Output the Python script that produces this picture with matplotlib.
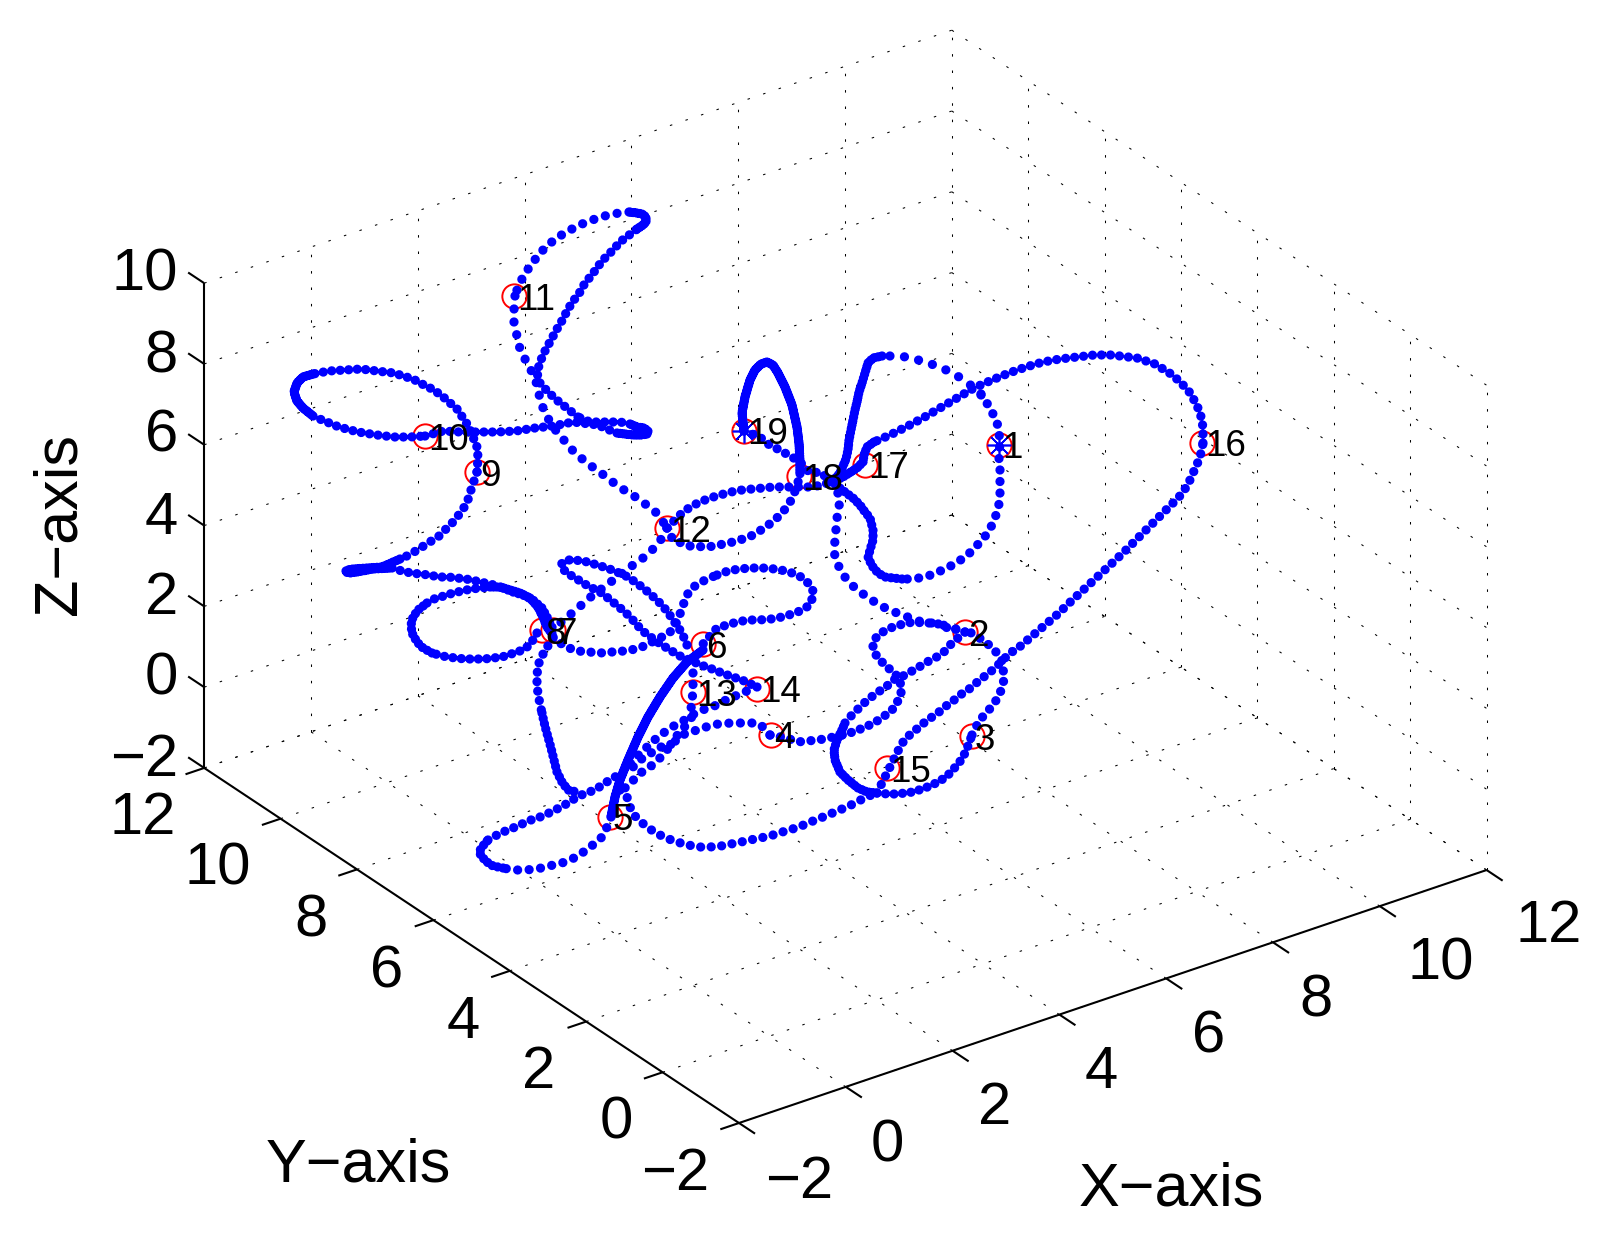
import numpy as np
import matplotlib
matplotlib.use('Agg')
import matplotlib.pyplot as plt

plt.rcParams['font.family'] = ['Liberation Sans', 'DejaVu Sans']
plt.rcParams['lines.scale_dashes'] = False

# axis frame (pixels of the 1603x1236 image)
corner_near = np.array([739., 1123.])
x_step = np.array([53.4, -18.07])
y_step = np.array([-38.2, -25.36])
z_step = np.array([0., -40.4])
x_ticks = [-2, 0, 2, 4, 6, 8, 10, 12]
y_ticks = [-2, 0, 2, 4, 6, 8, 10, 12]
z_ticks = [-2, 0, 2, 4, 6, 8, 10]

x_label_pos = [(799, 1182), (887, 1146), (995, 1109), (1101, 1072), (1209, 1037), (1316, 1001), (1441, 964), (1549, 927)]
y_label_pos = [(675, 1174), (616, 1123), (539, 1072), (463, 1022), (387, 972), (311, 921), (218, 869), (143, 818)]
z_label_pos = [(178, 760), (178, 679), (178, 599), (178, 518), (178, 436), (178, 357), (178, 275)]

# the 19 numbered points
point_u = [999, 965, 972, 771, 610, 703, 553, 542, 477, 425, 514, 667, 693, 757, 887, 1202, 865, 799, 744]
point_v = [445, 632, 736, 735, 817, 644, 630, 630, 472, 436, 296, 528, 692, 689, 768, 443, 465, 476, 431]
point_names = [str(i) for i in range(1, 20)]
star_points = [0, 18]

# trajectory, projected on the image plane
seg_9_10a = [(477,472),(478,457),(477,447),(473,437),(469,427),(463,418),(457,409),(449,402),(441,395),(432,389),(422,384),(413,379),(403,376),(394,373),(385,372),(377,371),(361,369),(345,370),(329,371),(313,374)]
seg_9_10b = [(313,374),(303,377),(297,383),(294,392),(297,401),(303,408),(313,416)]
seg_9_10c = [(313,416),(322,420),(339,427),(358,432),(377,435),(394,437),(410,437),(425,436)]
seg_10_tip = [(425,436),(443,431),(460,432),(478,432),(497,432),(516,431),(535,428),(553,426),(573,422),(598,425),(607,429),(617,433)]
seg_tip = [(617,433),(633,435),(641,435),(647,434),(648,431),(644,428),(637,427),(630,424)]
seg_tip_back = [(630,424),(620,422),(603,422),(590,422),(578,417)]
seg_tip_up = [(578,417),(568,409),(558,401),(548,392),(540,383),(537,373),(540,362),(545,351),(551,340),(557,329),(563,319),(568,309),(574,300),(580,292),(585,283),(591,276),(597,268),(602,261),(608,255),(614,249),(619,243),(625,238),(632,233),(637,229)]
seg_top = [(637,229),(643,225),(646,222),(646,217),(642,214),(637,213),(629,212)]
seg_top_11 = [(629,212),(619,213),(608,215),(595,219),(582,224),(568,231),(555,239),(543,250),(533,262),(524,275),(518,287),(515,296)]
seg_11_12 = [(515,296),(514,310),(514,323),(517,336),(520,349),(526,361),(532,372),(538,387),(540,400),(545,413),(553,427),(563,439),(574,452),(587,463),(601,473),(614,483),(627,492),(639,499),(649,507),(658,514),(667,528)]
seg_12_low = [(667,528),(673,540),(690,546),(708,547),(729,543),(740,540),(751,536),(761,530),(771,523),(779,516),(787,507),(793,497),(800,476)]
seg_12_up = [(667,528),(683,512),(692,506),(700,502),(710,498),(720,495),(731,492),(742,490),(752,489),(763,488),(773,487),(783,487),(800,487),(813,487),(832,482)]
seg_12_7 = [(667,528),(659,543),(652,550),(643,558),(633,565),(612,581),(588,599),(577,609),(560,623),(553,632)]
seg_7_6a = [(553,637),(560,643),(569,648),(578,651),(589,652),(600,653),(612,652),(624,651),(636,649),(647,645),(657,639),(667,635),(673,629),(678,620),(682,608),(687,595),(692,588),(698,584),(707,579),(717,575)]
seg_7_6b = [(717,575),(728,571),(739,569),(751,568),(763,568),(775,569),(786,571),(795,574),(803,578),(810,585),(814,593),(810,605),(800,611),(792,614),(782,617),(771,619),(759,620),(748,620),(737,622),(727,625),(717,628),(703,644)]
seg_hook = [(687,645),(682,633),(667,611),(658,601),(648,592),(638,584),(628,577),(617,572),(607,568),(597,565),(588,562),(575,560),(568,560),(562,563),(561,567),(567,573),(577,579),(588,586),(600,592),(608,598),(619,607),(626,613),(632,619),(638,626),(644,632),(652,638),(659,643),(670,650),(680,656),(701,665),(712,669),(722,673),(730,676),(742,680),(757,687)]
seg_9_far = [(477,472),(470,493),(467,503),(461,512),(454,521),(446,529),(438,537),(428,543),(419,549),(409,555),(400,559)]
seg_far_tip = [(400,559),(391,563),(382,567),(367,568),(353,569),(347,570),(345,572),(350,573),(357,572),(373,569),(392,568)]
seg_far_back = [(392,568),(402,571),(411,573),(420,574),(429,575),(439,577),(448,577),(457,578),(466,579),(476,581),(485,583),(494,585),(503,588)]
seg_far_knot = [(503,588),(513,592),(523,595),(533,600),(542,608),(547,617),(552,627),(553,632)]
seg_loop_a = [(537,633),(533,640),(527,647),(518,652),(511,654),(502,657),(493,658),(484,659),(474,659),(465,659),(456,658),(447,657),(439,655),(432,653)]
seg_loop_b = [(432,653),(423,648),(417,642),(412,633),(411,625),(413,617),(418,610),(427,603)]
seg_loop_c = [(427,603),(436,598),(444,596),(453,593),(462,591),(471,589),(481,588),(490,587)]
seg_loop_d = [(490,587),(500,587),(510,590),(520,593),(530,598),(538,607),(543,617),(547,627),(553,635)]
seg_west_a = [(553,638),(544,652),(539,663),(537,674),(537,684),(538,694),(540,704),(542,713)]
seg_west_b = [(542,713),(544,722),(546,730),(548,737),(551,748),(554,760),(557,772),(562,782),(568,790),(577,792)]
seg_thick = [(703,650),(687,662),(673,678),(660,697),(648,717),(638,737),(628,760),(620,780),(615,797),(611,817)]
seg_lower = [(611,817),(607,827),(602,837),(594,844),(585,851),(574,858),(562,863),(549,866),(537,869),(525,870),(513,870),(503,868)]
seg_lower_tip = [(503,868),(493,866),(487,862),(482,857),(479,852),(482,847),(488,840)]
seg_lower_back = [(488,840),(495,836),(503,832),(513,828),(522,824),(531,820),(540,817),(549,813),(559,808),(568,803),(577,797),(586,793),(595,790),(605,783),(615,777),(623,772)]
seg_14_arc = [(757,687),(742,693),(726,700),(717,705),(705,709),(694,714),(683,721),(672,727),(662,734),(652,742),(643,751),(635,758),(627,768)]
seg_13 = [(693,673),(693,685),(693,692),(691,707),(694,714),(680,733),(672,740),(670,747),(660,747),(651,753),(640,760),(630,770)]
seg_4_arc = [(770,735),(760,724),(752,723),(742,723),(731,723),(718,724),(706,727),(694,731),(682,735),(671,745),(661,757),(651,766),(639,774),(627,787),(620,790)]
seg_5_long = [(620,790),(627,797),(632,813),(640,821),(647,827),(656,833),(666,838),(677,842),(688,845),(699,847),(710,847),(721,846),(731,844),(741,842),(750,840),(760,838),(770,836),(779,833),(789,830),(799,827),(808,823),(818,819),(828,815),(837,811),(847,807),(857,802),(866,797),(877,793)]
seg_to_16a = [(877,793),(885,777),(890,767),(895,757),(900,747),(905,739),(912,733),(918,728),(925,722),(932,717),(939,712),(946,706),(953,701),(960,695),(968,690),(975,684),(981,679),(989,673),(996,667),(1002,661),(1010,653),(1017,649),(1024,643),(1031,637),(1038,631),(1045,625),(1052,619),(1059,613),(1066,606),(1094,580),(1123,553),(1151,525),(1179,497),(1185,489),(1190,480),(1194,471),(1198,462),(1201,453),(1203,443)]
seg_16_17 = [(1203,443),(1203,429),(1202,420),(1199,410),(1195,402),(1191,394),(1185,387),(1178,380),(1171,374),(1163,369),(1155,364),(1146,361),(1137,358),(1128,357),(1120,356),(1111,355),(1094,355),(1077,357),(1060,359),(1043,362),(1026,367),(1009,373),(992,380),(974,388),(957,398),(940,408),(923,418),(906,427),(890,435),(874,442)]
seg_17_knot = [(874,442),(867,447),(864,455),(863,462),(857,468),(843,477),(832,482)]
seg_1_s = [(981,394),(990,408),(997,422),(1000,440),(999,458),(1000,470),(1000,482),(1000,493),(999,504),(996,515),(992,525),(987,534),(980,542),(973,550),(965,557),(956,563),(947,568),(938,572),(928,576),(919,578),(910,579),(902,579)]
seg_s_knot = [(902,579),(893,578),(885,577),(878,573),(873,567),(868,558),(870,550),(873,540),(873,530),(870,518),(865,512),(860,505),(853,498),(845,492),(832,482)]
seg_top_right = [(981,395),(974,388),(968,383),(953,373),(937,366),(922,361),(907,357),(893,356),(882,356)]
seg_top_down = [(882,356),(873,358),(868,363),(865,373),(862,383),(859,392),(857,402),(855,410),(853,420),(851,430),(849,440),(848,450),(846,459),(840,473),(832,482)]
seg_down_2 = [(832,482),(840,497),(839,507),(837,518),(836,529),(835,540),(834,552),(837,563),(844,576),(854,587),(867,597),(881,606),(897,613),(913,619),(925,623),(937,623),(952,628),(965,632)]
seg_19_loop = [(744,431),(742,413),(745,397),(750,380),(755,370),(761,364),(767,362),(773,365),(778,373),(785,387),(792,405),(797,427),(799,443),(800,462),(800,476)]
seg_19_18 = [(744,431),(760,437),(766,443),(774,447),(783,452),(792,457),(800,462),(810,473),(820,472),(832,482)]
seg_2_c = [(965,632),(952,643),(943,653),(935,658),(927,662),(919,667),(912,671),(903,676),(893,680),(886,687),(878,692),(870,698),(863,704),(856,711),(850,717),(845,723)]
seg_c_low = [(845,723),(842,730),(837,740),(834,750),(835,760),(840,772),(848,780),(858,788),(867,792),(877,793)]
seg_c_3 = [(877,793),(888,794),(897,794),(905,793),(913,792),(922,789),(930,786),(938,782),(946,777),(952,771),(957,765),(962,759),(966,751),(969,743),(972,735)]
seg_3_2 = [(972,735),(979,721),(987,712),(994,704),(999,695),(1003,686),(1004,677),(1003,668),(1002,661),(996,652),(989,645),(981,639),(972,633),(965,632)]
seg_2_left = [(965,632),(952,628),(942,627),(937,623),(925,623),(913,622),(903,624),(893,627),(886,630),(878,635),(873,642),(873,648),(877,657),(886,666),(893,672),(899,678),(902,690),(897,703),(892,710),(883,717),(874,723),(863,728),(853,732),(842,735)]
seg_4_right = [(770,735),(787,738),(797,742),(807,741),(818,740),(829,738),(842,735)]

def project(x, y, z):
    return corner_near + (x + 2) * x_step + (y + 2) * y_step + (z + 2) * z_step

fig = plt.figure(figsize=(16.03, 12.36), dpi=100)
ax = fig.add_axes([0, 0, 1, 1])
ax.set_xlim(0, 1603)
ax.set_ylim(1236, 0)
ax.axis('off')

# dotted grid on the floor and the two back walls
def grid_line(a, b):
    ax.plot([a[0], b[0]], [a[1], b[1]], color='k', lw=0.75, ls=(0, (1.8, 10.0)), zorder=1)

for t in x_ticks:
    grid_line(project(t, -2, -2), project(t, 12, -2))
    if t > -2:
        grid_line(project(t, 12, -2), project(t, 12, 10))
for t in y_ticks:
    grid_line(project(-2, t, -2), project(12, t, -2))
    if t < 12:
        grid_line(project(12, t, -2), project(12, t, 10))
for t in z_ticks:
    grid_line(project(-2, 12, t), project(12, 12, t))
    grid_line(project(12, 12, t), project(12, -2, t))

# solid axes and ticks
def axis_line(a, b):
    ax.plot([a[0], b[0]], [a[1], b[1]], color='k', lw=1.5, solid_capstyle='butt', zorder=2)

axis_line(project(-2, -2, -2), project(12, -2, -2))
axis_line(project(-2, -2, -2), project(-2, 12, -2))
axis_line(project(-2, 12, -2), project(-2, 12, 10))
for t in x_ticks:
    axis_line(project(t, -2, -2), project(t, -2.42, -2))
for t in y_ticks:
    axis_line(project(-2, t, -2), project(-2.35, t, -2))
for t in z_ticks:
    axis_line(project(-2, 12, t), project(-2, 12.42, t))

# red circles go under the blue dots
ax.plot(point_u, point_v, 'o', ms=17.5, mfc='none', mec='r', mew=1.4, zorder=3)

sparse = 9.5
normal = 8.5
tight = 5.5
dense = 2.5
strokes = [
    (seg_9_10a, normal), (seg_9_10b, dense), (seg_9_10c, normal), (seg_10_tip, normal),
    (seg_tip, 3), (seg_tip_back, normal), (seg_tip_up, normal), (seg_top, 3), (seg_top_11, sparse + 2.5),
    (seg_11_12, sparse + 3.5), (seg_12_low, sparse + 1), (seg_12_up, sparse), (seg_12_7, sparse + 3.5),
    (seg_7_6a, sparse + 1), (seg_7_6b, sparse), (seg_hook, sparse - 1), (seg_9_far, sparse),
    (seg_far_tip, 3.5), (seg_far_back, normal), (seg_far_knot, tight), (seg_loop_a, sparse - 1),
    (seg_loop_b, tight), (seg_loop_c, normal), (seg_loop_d, 3.5), (seg_west_a, sparse),
    (seg_west_b, tight), (seg_thick, dense), (seg_lower, sparse + 2), (seg_lower_tip, tight),
    (seg_lower_back, sparse), (seg_14_arc, sparse + 2), (seg_13, sparse + 2), (seg_4_arc, sparse + 2),
    (seg_5_long, sparse + 1), (seg_to_16a, sparse), (seg_16_17, normal + 0.5), (seg_17_knot, 4),
    (seg_1_s, sparse + 2), (seg_s_knot, tight), (seg_top_right, sparse + 5), (seg_top_down, 4),
    (seg_down_2, sparse + 3), (seg_19_loop, dense), (seg_19_18, sparse), (seg_2_c, sparse),
    (seg_c_low, 4), (seg_c_3, normal), (seg_3_2, sparse + 1), (seg_2_left, normal + 1),
    (seg_4_right, sparse + 1),
]
for seg, gap in strokes:
    seg = np.array(seg)
    ax.plot(seg[:, 0], seg[:, 1], color='b', lw=6.7, ls=(0, (0.01, gap * 0.72)),
            dash_capstyle='round', dash_joinstyle='round', zorder=4)

ax.plot([point_u[i] for i in star_points], [point_v[i] for i in star_points], ls='none',
        marker=(8, 2, 0), ms=17, mec='b', mew=1.2, zorder=4)

for u, v, name in zip(point_u, point_v, point_names):
    ax.text(u + 3, v + 4, name, fontsize=26.5, color='k', ha='left', va='center', zorder=5)

# tick labels
def tick_text(ticks, pos, ha):
    for t, (u, v) in zip(ticks, pos):
        ax.text(u, v, str(t).replace('-', '\u2212'), fontsize=43, ha=ha, va='center', color='k')

tick_text(x_ticks, x_label_pos, 'center')
tick_text(y_ticks, y_label_pos, 'center')
tick_text(z_ticks, z_label_pos, 'right')

ax.text(1171, 1206, 'X\u2212axis', fontsize=44, ha='center', va='baseline')
ax.text(358, 1181, 'Y\u2212axis', fontsize=44, ha='center', va='baseline')
ax.text(89, 524, 'Z\u2212axis', fontsize=44, ha='right', va='center', rotation=90)

fig.savefig('out.png', dpi=100, facecolor='white')
